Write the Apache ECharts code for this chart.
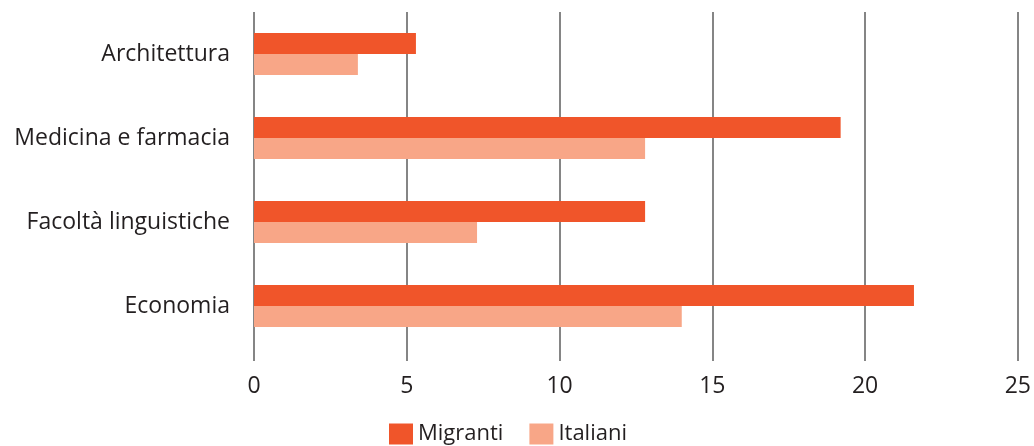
<!DOCTYPE html>
<html>
<head>
<meta charset="utf-8">
<script src="https://cdn.jsdelivr.net/npm/echarts@6/dist/echarts.min.js"></script>
<style>
  html, body { margin: 0; padding: 0; background: #fff; }
  #chart { width: 1034px; height: 446px; }
</style>
</head>
<body>
<div id="chart"></div>
<script>
// facoltà, dall'alto verso il basso
const categories = ["Architettura", "Medicina e farmacia", "Facoltà linguistiche", "Economia"];
const migranti = [5.3, 19.2, 12.8, 21.6];
const italiani = [3.4, 12.8, 7.3, 14.0];
const xTicks = [0, 5, 10, 15, 20, 25];

const gridColor = "#858585";
const textColor = "#231f20";
const font = "Open Sans";

const chart = echarts.init(document.getElementById("chart"));
const option = {
  backgroundColor: "#fff",
  animation: false,
  textStyle: { fontFamily: font },
  grid: { left: 254, right: 11, top: 12, bottom: 98, containLabel: false },
  legend: {
    left: 384,
    top: 418,
    itemWidth: 24,
    itemHeight: 21,
    itemGap: 26,
    icon: "rect",
    textStyle: { fontSize: 22, color: textColor, fontFamily: font },
    data: ["Migranti", "Italiani"]
  },
  xAxis: {
    type: "value",
    min: xTicks[0],
    max: xTicks[xTicks.length - 1],
    interval: 5,
    axisLine: { show: false },
    axisTick: { show: true, length: 13, lineStyle: { color: gridColor, width: 2 } },
    splitLine: { show: true, lineStyle: { color: gridColor, width: 2 } },
    axisLabel: { fontSize: 23, color: textColor, margin: 27, fontFamily: font }
  },
  yAxis: {
    type: "category",
    inverse: true,
    data: categories,
    axisLine: { show: false },
    axisTick: { show: false },
    axisLabel: { fontSize: 23, color: textColor, margin: 24, fontFamily: font, padding: [0, 0, 8, 0] }
  },
  series: [
    {
      name: "Migranti",
      type: "bar",
      data: migranti,
      barWidth: 21,
      barGap: "0%",
      itemStyle: { color: "#f0552a" }
    },
    {
      name: "Italiani",
      type: "bar",
      data: italiani,
      barWidth: 21,
      itemStyle: { color: "#f8a687" }
    }
  ]
};
chart.setOption(option);
</script>
</body>
</html>
